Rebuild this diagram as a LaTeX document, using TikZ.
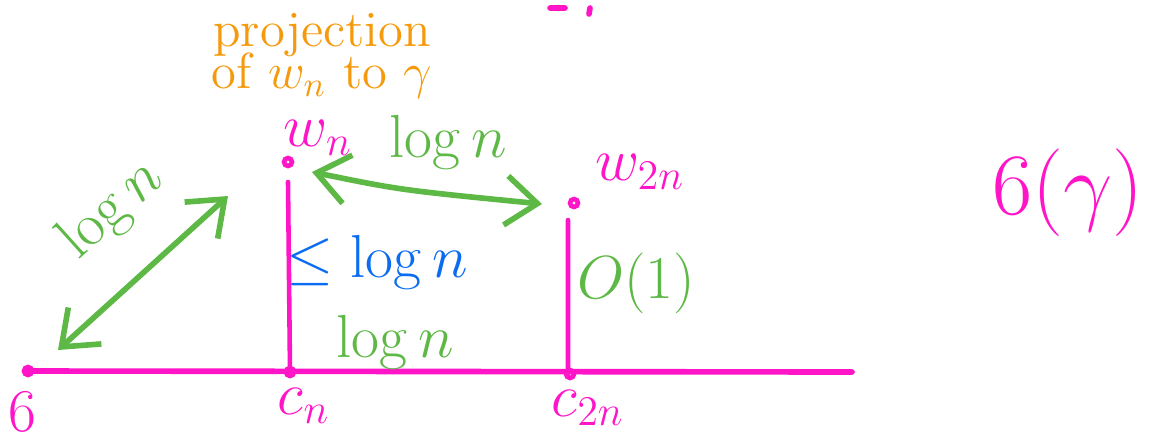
\documentclass[tikz,border=0pt]{standalone}
\usepackage{amsmath}
\usetikzlibrary{arrows.meta}
\definecolor{mag}{HTML}{FF14C8}
\definecolor{grn}{HTML}{5DB845}
\definecolor{blu}{HTML}{0A6CF0}
\definecolor{org}{HTML}{F59A0C}

\begin{document}
\begin{tikzpicture}[x=0.01cm, y=-0.01cm, line width=1.6pt, line cap=round]
  \useasboundingbox (0,0) rectangle (1168,442);
  \coordinate (O) at (28,371);
  \coordinate (Cn) at (290,372);
  \coordinate (C2n) at (570,374);
  \coordinate (E) at (852,372);
  \coordinate (Wn) at (288,162);
  \coordinate (W2n) at (574,203);

  % geodesic
  \draw[mag] (O) -- (E);
  \draw[mag, line width=1.3pt] (Wn) ++(0,20) -- (Cn);
  \draw[mag, line width=1.3pt] (W2n) ++(-6,17) -- ([xshift=-0.02cm]C2n);
  \foreach \p in {O, Cn, C2n, Wn, W2n}
    \draw[mag, line width=1.3pt] (\p) circle (4);
  \draw[mag] (550,8) -- (565,8) (590,8) -- (589,14);

  % distances
  \draw[grn, {Straight Barb[length=9pt,width=14pt]}-{Straight Barb[length=9pt,width=14pt]}] (58,350) -- (228,196);
  \draw[grn, {Straight Barb[length=9pt,width=14pt]}-{Straight Barb[length=9pt,width=14pt]}] (312,172) .. controls (400,190) .. (542,204);

  \node[grn, rotate=42, font=\LARGE, inner sep=0pt] (l1) at (112,210) {$\log n$};
  \node[grn, font=\LARGE] (l2) at (448,142) {$\log n$};
  \node[grn, font=\LARGE] (l3) at (395,342) {$\log n$};
  \node[blu, font=\LARGE] (l4) at (377,262) {$\leq\log n$};
  \node[grn, font=\LARGE] (l5) at (636,283) {$O(1)$};

  \node[mag, font=\LARGE] (o) at (22,412) {$6$};
  \node[mag, font=\LARGE] (cn) at (304,406) {$c_n$};
  \node[mag, font=\LARGE] (c2n) at (588,408) {$c_{2n}$};
  \node[mag, font=\LARGE] (wn) at (318,138) {$w_n$};
  \node[mag, font=\LARGE] (w2n) at (640,172) {$w_{2n}$};
  \node[mag, font=\Huge] (G) at (1068,193) {$6(\gamma)$};

  \node[org, font=\Large, align=center, inner sep=1pt] (proj) at (322,56) {projection\\[-6pt] of $w_n$ to $\gamma$};
\end{tikzpicture}
\end{document}
